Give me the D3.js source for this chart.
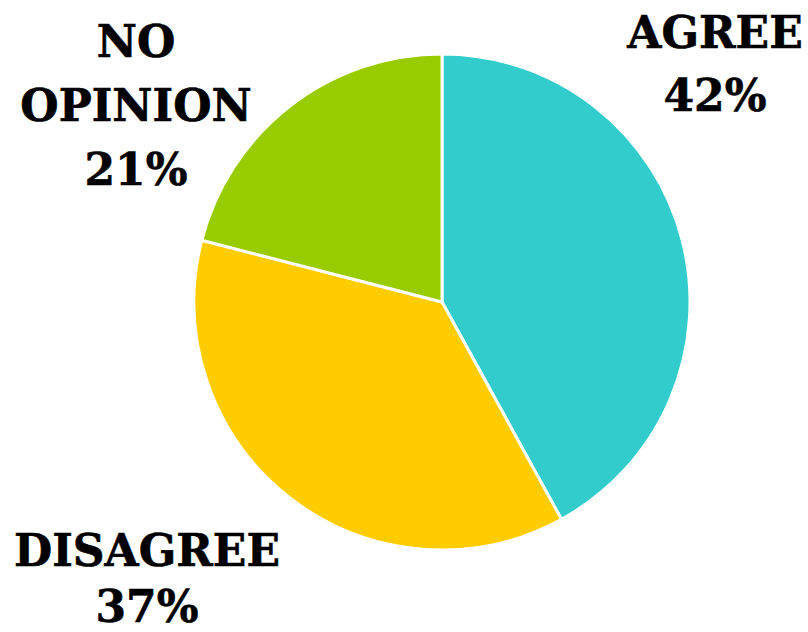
<!DOCTYPE html>
<html>
<head>
<meta charset="utf-8">
<script src="https://cdn.jsdelivr.net/npm/d3@7"></script>
<style>
  html, body { margin: 0; padding: 0; background: #ffffff; }
  svg { display: block; }
  .lbl { font-family: "DejaVu Serif", serif; font-weight: bold; fill: #000; stroke: #000; stroke-width: 0.6px; }
</style>
</head>
<body>
<svg id="chart" width="808" height="632"></svg>
<script>
const categories = ["AGREE", "DISAGREE", "NO OPINION"];
const values = [42, 37, 21];
const colors = ["#33CCCC", "#FFCC00", "#99CC00"];
const labelLines = [["AGREE", "42%"], ["DISAGREE", "37%"], ["NO", "OPINION", "21%"]];

const W = 808, H = 632;
const cx = 442, cy = 302, R = 248;
const svg = d3.select("#chart");

const data = categories.map((c, i) => ({ cat: c, value: values[i], color: colors[i], lines: labelLines[i] }));

const pie = d3.pie().value(d => d.value).sort(null);
const arc = d3.arc().innerRadius(0).outerRadius(R);

const g = svg.append("g").attr("transform", `translate(${cx},${cy})`);
g.selectAll("path")
  .data(pie(data))
  .join("path")
  .attr("d", arc)
  .attr("fill", d => d.data.color)
  .attr("stroke", "#ffffff")
  .attr("stroke-width", 3)
  .attr("stroke-linejoin", "round");

// label layout: centre x, first baseline and line gap for each label block
const labelPos = [
  { x: 715, y: 48, gap: 63 },
  { x: 147, y: 566, gap: 56 },
  { x: 136, y: 57, gap: 64 }
];
const fontSize = 44;

svg.selectAll("text.lbl")
  .data(data)
  .join("text")
  .attr("class", "lbl")
  .attr("text-anchor", "middle")
  .attr("font-size", fontSize)
  .each(function(d, i) {
    const t = d3.select(this);
    d.lines.forEach((ln, k) => {
      t.append("tspan")
        .attr("x", labelPos[i].x)
        .attr("y", labelPos[i].y + k * labelPos[i].gap)
        .text(ln);
    });
  });
</script>
</body>
</html>
